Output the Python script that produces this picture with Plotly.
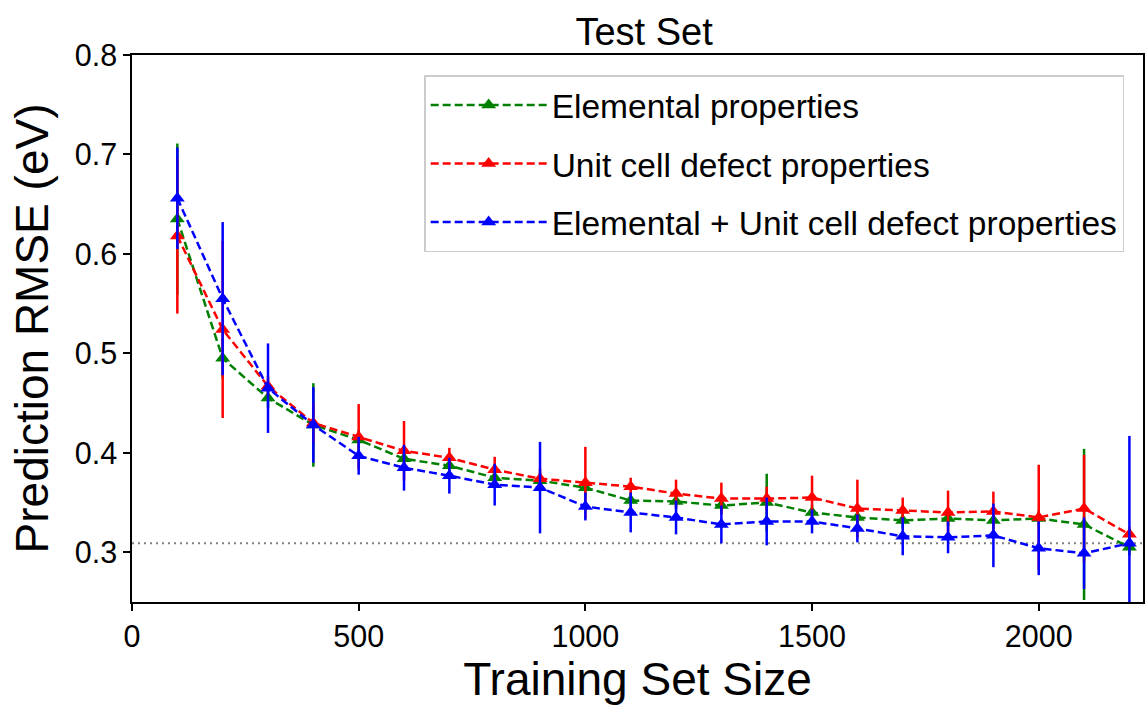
import plotly.graph_objects as go

sizes = [100, 200, 300, 400, 500, 600, 700, 800, 900, 1000, 1100,
         1200, 1300, 1400, 1500, 1600, 1700, 1800, 1900, 2000, 2100, 2200]

elem = [0.635, 0.495, 0.455, 0.428, 0.413, 0.394, 0.387, 0.375, 0.372, 0.365, 0.352,
        0.351, 0.347, 0.350, 0.340, 0.335, 0.332, 0.334, 0.332, 0.334, 0.328, 0.305]
elem_err = [0.076, 0.020, 0.010, 0.042, 0.010, 0.010, 0.008, 0.008, 0.008, 0.008, 0.008,
            0.008, 0.008, 0.029, 0.008, 0.008, 0.008, 0.008, 0.008, 0.008, 0.076, 0.008]

unit = [0.618, 0.524, 0.467, 0.430, 0.416, 0.402, 0.395, 0.383, 0.374, 0.370, 0.366,
        0.359, 0.354, 0.354, 0.355, 0.344, 0.342, 0.340, 0.341, 0.335, 0.344, 0.318]
unit_err = [0.078, 0.089, 0.010, 0.020, 0.033, 0.030, 0.010, 0.013, 0.010, 0.036, 0.009,
            0.014, 0.016, 0.012, 0.022, 0.029, 0.013, 0.022, 0.020, 0.053, 0.054, 0.008]

both = [0.656, 0.555, 0.465, 0.428, 0.397, 0.385, 0.377, 0.368, 0.365, 0.346, 0.340,
        0.335, 0.328, 0.331, 0.331, 0.324, 0.316, 0.315, 0.317, 0.304, 0.299, 0.309]
both_err = [0.051, 0.077, 0.045, 0.038, 0.019, 0.023, 0.018, 0.021, 0.046, 0.014, 0.020,
            0.017, 0.019, 0.024, 0.012, 0.014, 0.019, 0.016, 0.032, 0.027, 0.036, 0.108]

ref_level = 0.309

x_ticks = [0, 500, 1000, 1500, 2000]
y_ticks = [0.3, 0.4, 0.5, 0.6, 0.7, 0.8]

FONT = "Liberation Sans, Arial, sans-serif"

series = [
    ("Elemental properties", elem, elem_err, "green"),
    ("Unit cell defect properties", unit, unit_err, "red"),
    ("Elemental + Unit cell defect properties", both, both_err, "blue"),
]

fig = go.Figure()
for i, (name, vals, errs, col) in enumerate(series):
    fig.add_trace(go.Scatter(
        x=sizes, y=vals, name=name, mode="lines+markers", legendgroup=f"g{i}",
        line=dict(color=col, width=2.5, dash="8px,4px"),
        marker=dict(symbol="triangle-up", size=13, color=col),
        error_y=dict(type="data", array=errs, visible=True, color=col,
                     thickness=2.5, width=0),
    ))

fig.add_shape(type="line", xref="paper", x0=0, x1=1, yref="y",
              y0=ref_level, y1=ref_level,
              line=dict(color="gray", width=2, dash="2px,4px"), layer="below")

fig.update_layout(
    width=1145, height=707,
    margin=dict(l=132, r=0, t=55, b=105),
    paper_bgcolor="white", plot_bgcolor="white",
    font=dict(family=FONT, color="black"),
    title=dict(text="Test Set", x=0.5625, xanchor="center", y=0.955, yanchor="middle",
               font=dict(size=38, family=FONT)),
    showlegend=True,
    legend=dict(x=0.289, y=0.963, xanchor="left", yanchor="top",
                bgcolor="white", bordercolor="#cccccc", borderwidth=1.5,
                font=dict(size=33.5, family=FONT), tracegroupgap=12,
                itemwidth=116),
    xaxis=dict(range=[0, 2230], tickvals=x_ticks, ticks="outside", ticklen=7,
               tickwidth=1.5, tickcolor="black", showline=True, linecolor="black",
               linewidth=1.5, mirror=True, showgrid=False, zeroline=False,
               tickfont=dict(size=30.5, family=FONT),
               title=dict(text="Training Set Size", font=dict(size=46, family=FONT),
                          standoff=8)),
    yaxis=dict(range=[0.25, 0.8], tickvals=y_ticks, tickformat=".1f", ticks="outside",
               ticklen=7, tickwidth=1.5, tickcolor="black", showline=True,
               linecolor="black", linewidth=1.5, mirror=True, showgrid=False,
               zeroline=False, tickfont=dict(size=30.5, family=FONT),
               title=dict(text="Prediction RMSE (eV)", font=dict(size=46, family=FONT),
                          standoff=12)),
)

fig.write_html("out.html")
